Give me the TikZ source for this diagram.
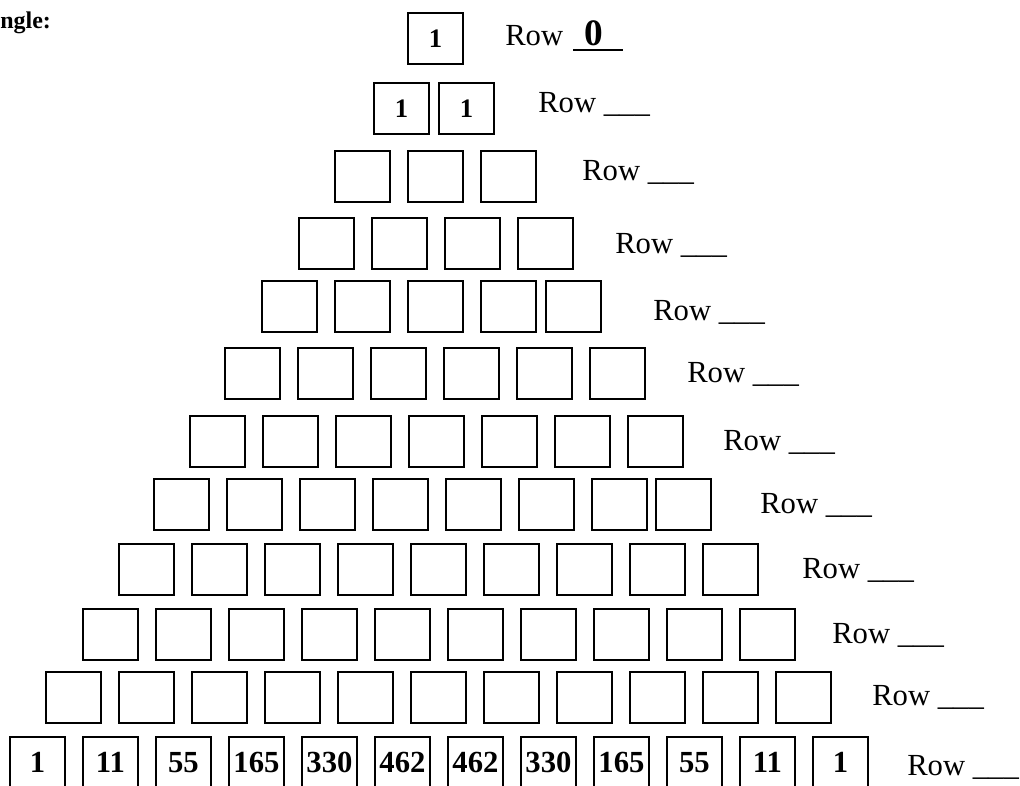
\documentclass[tikz,border=0pt]{standalone}
\usepackage{fontspec}
\setmainfont{Liberation Serif}

\begin{document}
\begin{tikzpicture}[x=0.75pt, y=-0.75pt,
    cell/.style={draw, line width=1.4pt, minimum width=41.25pt, minimum height=38.25pt,
        inner sep=0pt, anchor=north west},
    rowlabel/.style={anchor=base west, inner sep=0pt, font=\fontsize{23}{26}\selectfont},
    entry/.style={inner sep=0pt, font=\fontsize{23}{26}\selectfont\bfseries},
    topentry/.style={inner sep=0pt, font=\fontsize{20}{23}\selectfont\bfseries}]
    % Fix the page size
    \useasboundingbox (0,0) rectangle (1020,785);
    \clip (0,0) rectangle (1020,785);
    % Draw heading (cut at the left edge)
    \node[anchor=base west, inner sep=0pt, font=\fontsize{18}{20}\selectfont\bfseries] (title) at (0,28) {ngle:};
    % Draw the rows of boxes: row/top/first x/last x/label x/label baseline
    \foreach \r/\top/\first/\last/\lx/\ly in {0/12/407/407/505/45, 1/82/373/438/538/112,
        2/150/334/480/582/180, 3/217/298/517/615/253, 4/280/261/545/653/320,
        5/347/224/589/687/382, 6/415/189/627/723/450, 7/478/153/655/760/513,
        8/543/118/702/802/578, 9/608/82/739/832/643, 10/671/45/775/872/705,
        11/736/9/812/907/775}
    {
        \foreach \k in {0,...,\r}
        {
            \pgfmathsetmacro\cx{ifthenelse(\k==\r,\last,\first+73*\k)}
            \node[cell] (c-\r-\k) at (\cx,\top) {};
        }
        \ifnum\r>0
            \node[rowlabel] (lab-\r) at (\lx,\ly) {Row \_\_\_};
        \fi
    }
    % Draw label of row 0, with its answer on the line
    \node[rowlabel] (lab-0) at (505,45) {Row};
    \node[anchor=base, inner sep=0pt, font=\fontsize{28}{30}\selectfont\bfseries] (ans-0) at (594,45) {0};
    \draw[line width=1.1pt] (573,50) -- (623,50);
    % Draw the known entries
    \node[topentry] (v-0-0) at (c-0-0) {1};
    \node[topentry] (v-1-0) at (c-1-0) {1};
    \node[topentry] (v-1-1) at (c-1-1) {1};
    \foreach \v [count=\k from 0] in {1,11,55,165,330,462,462,330,165,55,11,1}
        \node[entry] (v-11-\k) at (c-11-\k) {\v};
\end{tikzpicture}
\end{document}
